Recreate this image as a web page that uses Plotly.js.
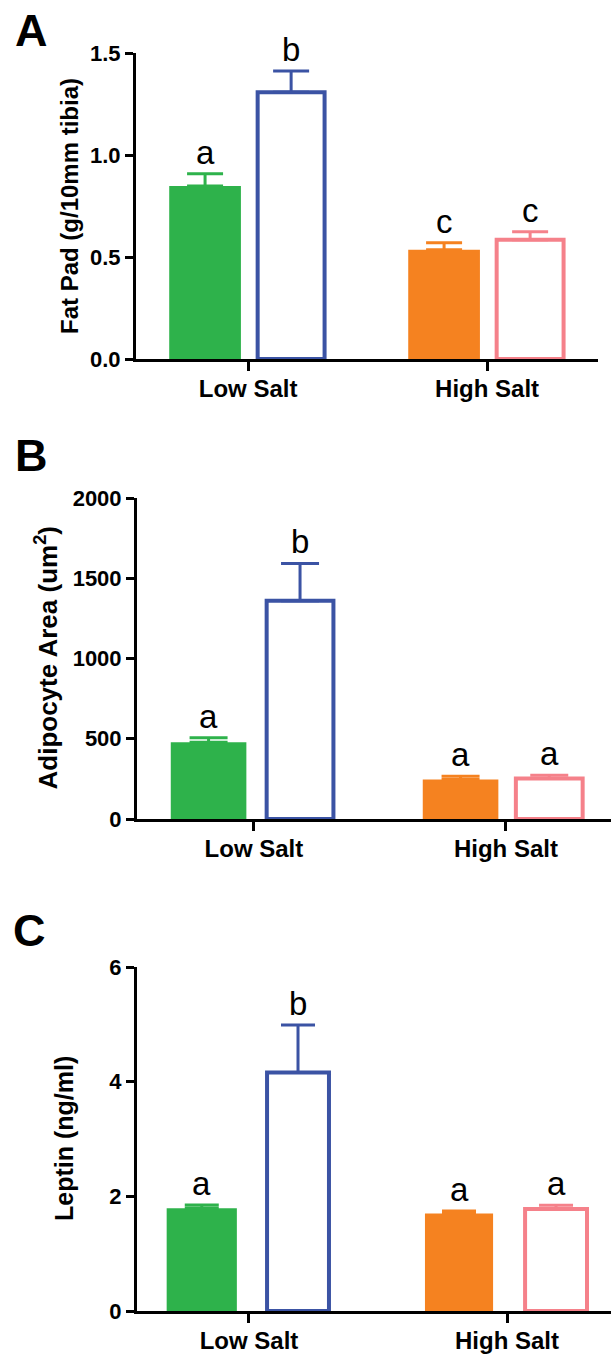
<!DOCTYPE html>
<html>
<head>
<meta charset="utf-8">
<script src="https://cdn.plot.ly/plotly-3.0.1.min.js"></script>
<style>html,body{margin:0;padding:0;background:#fff;}#chart{width:611px;height:1355px;}</style>
</head>
<body>
<div id="chart"></div>
<script>
// ---- data ----
const categories = ['Low Salt', 'High Salt'];
const barGroup = [0, 0, 1, 1];               // which category each bar belongs to
const barColors = ['#2eb24b', '#3b53a4', '#f58220', '#f5818a'];
const barFilled = [true, false, true, false];

const fatPadMean = [0.848, 1.308, 0.535, 0.585];
const fatPadSEM = [0.060, 0.104, 0.035, 0.039];
const fatPadLetters = ['a', 'b', 'c', 'c'];
const fatPadTicks = [0, 0.5, 1.0, 1.5];
const fatPadTickText = ['0.0', '0.5', '1.0', '1.5'];

const adipoMean = [478, 1360, 246, 252];
const adipoSEM = [28, 232, 21, 21];
const adipoLetters = ['a', 'b', 'a', 'a'];
const adipoTicks = [0, 500, 1000, 1500, 2000];
const adipoTickText = ['0', '500', '1000', '1500', '2000'];

const leptinMean = [1.79, 4.16, 1.70, 1.78];
const leptinSEM = [0.06, 0.83, 0.045, 0.065];
const leptinLetters = ['a', 'b', 'a', 'a'];
const leptinTicks = [0, 2, 4, 6];
const leptinTickText = ['0', '2', '4', '6'];

// ---- layout helpers ----
const W = 611, H = 1355;
const FONT = 'Liberation Sans, Arial, sans-serif';
const px = v => v / W;
const py = v => 1 - v / H;

const panels = [
  { mean: fatPadMean, sem: fatPadSEM, letters: fatPadLetters, ticks: fatPadTicks, tickText: fatPadTickText,
    yRange: [0, 1.5], title: 'Fat Pad (g/10mm tibia)', label: 'A',
    xDom: [px(136), px(598)], yDom: [py(359), py(53)], xRange: [-0.469, 1.464],
    centers: [-0.18, 0.18, -0.18, 0.18], widths: [0.30, 0.28, 0.30, 0.28], cap: 18,
    titleX: 70, titleSize: 24, labelX: 31, labelY: 30 },
  { mean: adipoMean, sem: adipoSEM, letters: adipoLetters, ticks: adipoTicks, tickText: adipoTickText,
    yRange: [0, 2000], title: 'Adipocyte Area (um<sup>2</sup>)', label: 'B',
    xDom: [px(137), 1], yDom: [py(819), py(498)], xRange: [-0.464, 1.417],
    centers: [-0.18, 0.183, -0.18, 0.172], widths: [0.30, 0.265, 0.30, 0.265], cap: 19,
    titleX: 47, titleSize: 26, labelX: 31, labelY: 455 },
  { mean: leptinMean, sem: leptinSEM, letters: leptinLetters, ticks: leptinTicks, tickText: leptinTickText,
    yRange: [0, 6], title: 'Leptin (ng/ml)', label: 'C',
    xDom: [px(137), 1], yDom: [py(1311), py(967)], xRange: [-0.434, 1.403],
    centers: [-0.183, 0.19, -0.186, 0.19], widths: [0.272, 0.24, 0.264, 0.24], cap: 17,
    titleX: 64, titleSize: 25, labelX: 30, labelY: 930 }
];

const traces = [];
const annotations = [];
const layout = {
  width: W, height: H,
  margin: { l: 0, r: 0, t: 0, b: 0 },
  paper_bgcolor: '#fff', plot_bgcolor: '#fff',
  showlegend: false, barmode: 'overlay',
  font: { family: FONT, color: '#000' }
};

panels.forEach((p, k) => {
  const sfx = k === 0 ? '' : String(k + 1);
  const xa = 'x' + sfx, ya = 'y' + sfx;
  p.mean.forEach((m, i) => {
    const filled = barFilled[i];
    traces.push({
      type: 'bar', xaxis: xa, yaxis: ya,
      x: [barGroup[i]], y: [m],
      width: [p.widths[i]], offset: [p.centers[i] - p.widths[i] / 2],
      marker: {
        color: filled ? barColors[i] : '#ffffff',
        line: { color: barColors[i], width: filled ? 0 : 4 }
      },
      error_y: { type: 'data', symmetric: false, array: [p.sem[i]], arrayminus: [0],
                 color: barColors[i], thickness: 3, width: p.cap },
      hoverinfo: 'skip'
    });
    annotations.push({
      xref: xa, yref: ya, x: barGroup[i] + p.centers[i], y: m + p.sem[i],
      text: p.letters[i], showarrow: false, yanchor: 'bottom', xanchor: 'center', yshift: 1,
      font: { family: FONT, size: 33, color: '#000' }
    });
  });
  layout['xaxis' + sfx] = {
    domain: p.xDom, anchor: ya, range: p.xRange,
    tickmode: 'array', tickvals: [0, 1], ticktext: categories,
    ticks: 'outside', ticklen: 9, tickwidth: 3, tickcolor: '#000',
    showline: true, linewidth: 3, linecolor: '#000',
    showgrid: false, zeroline: false, fixedrange: true,
    ticklabelstandoff: -3,
    tickfont: { family: FONT, size: 24, weight: 'bold', color: '#000' }
  };
  layout['yaxis' + sfx] = {
    domain: p.yDom, anchor: xa, range: p.yRange,
    tickmode: 'array', tickvals: p.ticks, ticktext: p.tickText,
    ticks: 'outside', ticklen: 8, tickwidth: 3, tickcolor: '#000',
    showline: true, linewidth: 3, linecolor: '#000',
    showgrid: false, zeroline: false, fixedrange: true,
    tickfont: { family: FONT, size: 22, weight: 'bold', color: '#000' }
  };
  annotations.push({
    xref: 'paper', yref: 'paper', x: px(p.titleX), y: (p.yDom[0] + p.yDom[1]) / 2,
    text: '<b>' + p.title + '</b>', textangle: -90, showarrow: false,
    xanchor: 'center', yanchor: 'middle',
    font: { family: FONT, size: p.titleSize, color: '#000' }
  });
  annotations.push({
    xref: 'paper', yref: 'paper', x: px(p.labelX), y: py(p.labelY),
    text: '<b>' + p.label + '</b>', showarrow: false,
    xanchor: 'center', yanchor: 'middle',
    font: { family: FONT, size: 45, color: '#000' }
  });
});
layout.annotations = annotations;

Plotly.newPlot('chart', traces, layout, { staticPlot: true, displayModeBar: false });
</script>
</body>
</html>
